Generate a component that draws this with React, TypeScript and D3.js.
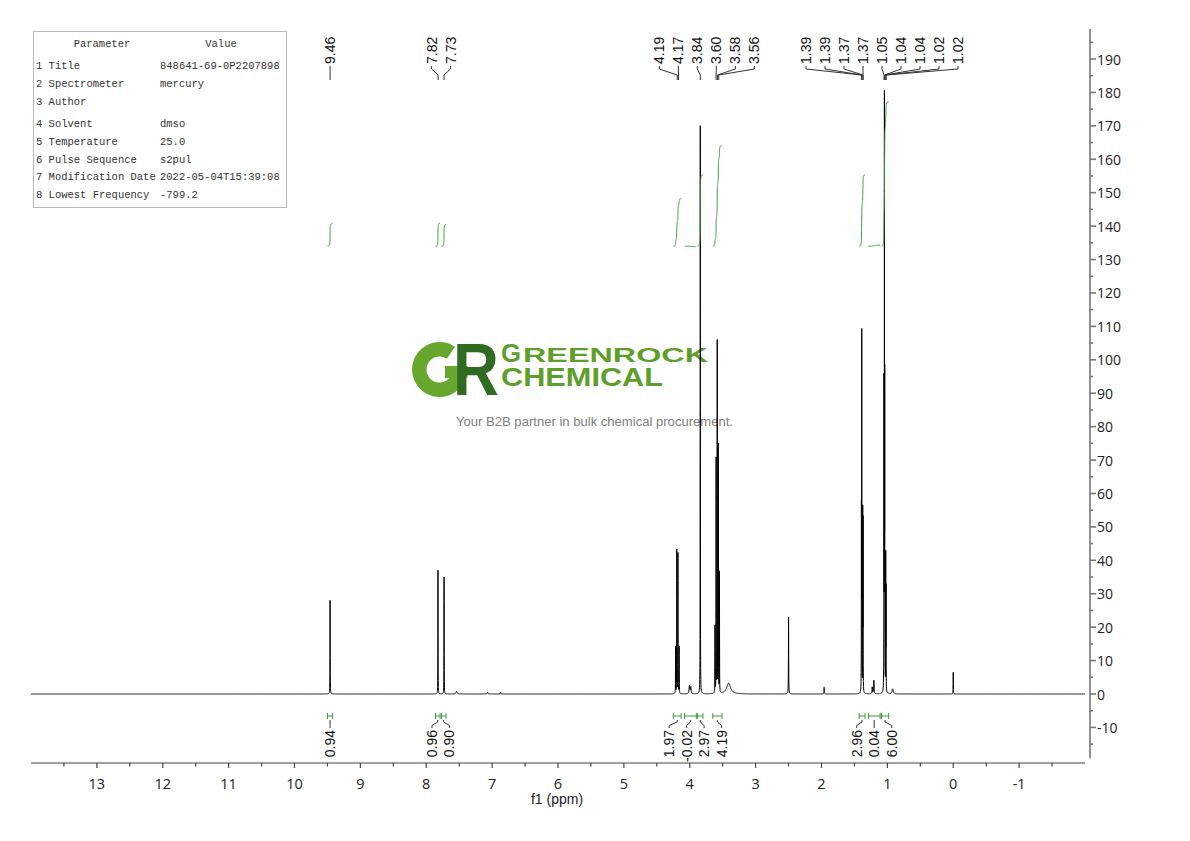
import React from 'react'
import * as d3 from 'd3'

// acquisition parameters (table, top left)
const paramNames = ['Title', 'Spectrometer', 'Author', 'Solvent', 'Temperature', 'Pulse Sequence', 'Modification Date', 'Lowest Frequency']
const paramValues = ['848641-69-0P2207898', 'mercury', '', 'dmso', '25.0', 's2pul', '2022-05-04T15:39:08', '-799.2']

// resolved lines of the 1H spectrum
const peakPpm = [9.46, 7.822, 7.73, 7.54, 7.07, 6.87, 4.215, 4.197, 4.179, 4.161, 4.005, 3.985, 3.84, 3.617, 3.6, 3.583, 3.566, 3.549, 3.41, 2.5, 1.96, 1.394, 1.389, 1.374, 1.369, 1.23, 1.205, 1.052, 1.045, 1.04, 1.025, 1.02, 0.92, 0.0]
const peakHeight = [28, 37, 35, 0.8, 0.6, 0.5, 14, 43, 42, 14, 2.5, 2, 170, 20, 70, 105, 74, 36, 3.2, 23, 2, 52, 106, 53, 50, 2, 4, 90, 173, 88, 40, 30, 1.5, 6.5]
const peakWidth = [0.0016, 0.0014, 0.0014, 0.01, 0.005, 0.005, 0.0014, 0.0014, 0.0014, 0.0014, 0.006, 0.006, 0.0013, 0.0013, 0.0013, 0.0013, 0.0013, 0.0013, 0.035, 0.002, 0.003, 0.0012, 0.0012, 0.0012, 0.0012, 0.004, 0.004, 0.0012, 0.0012, 0.0012, 0.0012, 0.0012, 0.01, 0.0018]

// peak picking labels
const shiftLabels = ['9.46', '7.82', '7.73', '4.19', '4.17', '3.84', '3.60', '3.58', '3.56', '1.39', '1.39', '1.37', '1.37', '1.05', '1.04', '1.04', '1.02', '1.02']

// integration regions
const integralFrom = [9.5, 7.86, 7.77, 4.25, 4.08, 3.88, 3.65, 1.43, 1.29, 1.09]
const integralTo = [9.42, 7.79, 7.7, 4.13, 3.9, 3.8, 3.51, 1.34, 1.11, 0.98]
const integralValue = [0.94, 0.96, 0.9, 1.97, -0.02, 2.97, 4.19, 2.96, 0.04, 6.0]

const xMajor = d3.range(13, -1.5, -1)
const xMinor = d3.range(13.5, -2, -1)
const yMajor = d3.range(-10, 200, 10)
const yMinor = d3.range(-15, 200, 10)

const W = 1190
const H = 841
const xScale = d3.scaleLinear().domain([14, -2]).range([31, 1085])
const yScale = d3.scaleLinear().domain([0, 190]).range([694, 59])

const intensity = (ppm: number) => {
    let s = 0
    for (let i = 0; i < peakPpm.length; i++) {
        const u = (ppm - peakPpm[i]) / peakWidth[i]
        s += peakHeight[i] / (1 + u * u)
    }
    return s
}

// spread overlapping labels to an even pitch; each cluster is placed so that the
// median displacement is zero (labels move as little as possible)
function spread(ideal: number[], gap: number) {
    type C = { start: number; n: number; c: number }
    const place = (start: number, n: number) => {
        const d = d3.range(n).map((k) => ideal[start + k] - k * gap)
        return d3.median(d) as number
    }
    let cl: C[] = ideal.map((x, i) => ({ start: i, n: 1, c: x }))
    let again = true
    while (again) {
        again = false
        for (let i = 0; i < cl.length - 1; i++) {
            const a = cl[i]
            const b = cl[i + 1]
            const aEnd = a.c + (a.n - 1) * gap
            if (b.c - aEnd < gap - 1e-6) {
                const n = a.n + b.n
                cl.splice(i, 2, { start: a.start, n, c: place(a.start, n) })
                again = true
                break
            }
        }
    }
    const out: number[] = []
    cl.forEach((c) => {
        for (let k = 0; k < c.n; k++) out.push(c.c + k * gap)
    })
    return out
}

export default function App() {
    // sample the spectrum, adding points at every line centre
    const pts: number[] = d3.range(14, -2.0001, -0.002)
    peakPpm.forEach((p, i) => {
        ;[-4, -2, -1, -0.5, 0, 0.5, 1, 2, 4].forEach((k) => pts.push(p + k * peakWidth[i]))
    })
    pts.sort((a, b) => b - a)
    const spec: [number, number][] = pts.map((p) => [p, intensity(p)])
    const line = d3
        .line<[number, number]>()
        .x((d) => xScale(d[0]))
        .y((d) => yScale(d[1]))

    // integral curves
    const integralBase = 134
    const integralUnit = 7.2
    const integrals = integralFrom.map((from, i) => {
        const xs = d3.range(from, integralTo[i] - 0.00001, -0.0004)
        const vals = xs.map(intensity)
        const total = d3.sum(vals)
        let c = 0
        const curve: [number, number][] = xs.map((p, j) => {
            c += vals[j]
            return [p, integralBase + (integralValue[i] * integralUnit * c) / total]
        })
        return curve
    })

    const shiftPpm = shiftLabels.map(Number)
    const topX = spread(shiftPpm.map((p) => xScale(p)), 19)
    const midX = integralFrom.map((f, i) => xScale((f + integralTo[i]) / 2))
    const botX = spread(midX, 17.5)

    const labelFont = 'Liberation Sans, Arial, sans-serif'
    const axisFont = 'Open Sans, sans-serif'
    const green = '#3a9c3a'
    const rowY = [69, 87, 105, 127, 145, 163, 180, 198]
    const charW = 6.3

    const arc = d3.arc()({ innerRadius: 13, outerRadius: 27.5, startAngle: Math.PI / 2 + 0.06, endAngle: Math.PI * 2 + 0.6 }) as string

    return (
        <svg width={W} height={H} style={{ position: 'absolute', left: 0, top: 0, background: '#fff' }}>
            {/* watermark */}
            <g>
                <path d={arc} transform="translate(439.5,369.5)" fill="#67a72e" />
                <rect x={445} y={366} width={22.5} height={12} fill="#67a72e" />
                <text x={0} y={0} fontFamily={labelFont} fontWeight={700} fontSize={74} fill="#2f6b22" transform="translate(453,395) scale(0.86,1)">
                    R
                </text>
                <text x={501} y={362} fontFamily={labelFont} fontWeight={700} fill="#5e9f2b" fontSize={21}>
                    <tspan fontSize={26} textLength={20} lengthAdjust="spacingAndGlyphs">G</tspan>
                    <tspan x={523} textLength={185} lengthAdjust="spacingAndGlyphs">REENROCK</tspan>
                </text>
                <text x={501} y={385.5} fontFamily={labelFont} fontWeight={700} fontSize={25} fill="#5e9f2b" textLength={162} lengthAdjust="spacingAndGlyphs">
                    CHEMICAL
                </text>
                <text x={456} y={425.5} fontFamily={labelFont} fontSize={12.5} fill="#808080" textLength={277} lengthAdjust="spacingAndGlyphs">
                    Your B2B partner in bulk chemical procurement.
                </text>
            </g>

            {/* parameter table */}
            <g fontFamily="Liberation Mono, monospace" fontSize={11.5} fill="#333">
                <rect x={33.5} y={31.5} width={253} height={176} fill="none" stroke="#bbb" />
                <text x={102} y={47} textAnchor="middle" textLength={9 * charW} lengthAdjust="spacingAndGlyphs">Parameter</text>
                <text x={221} y={47} textAnchor="middle" textLength={5 * charW} lengthAdjust="spacingAndGlyphs">Value</text>
                {paramNames.map((n, i) => {
                    const a = `${i + 1} ${n}`
                    const b = paramValues[i]
                    return (
                        <g key={n}>
                            <text x={36} y={rowY[i]} textLength={a.length * charW} lengthAdjust="spacingAndGlyphs">{a}</text>
                            {b && (
                                <text x={160} y={rowY[i]} textLength={b.length * charW} lengthAdjust="spacingAndGlyphs">{b}</text>
                            )}
                        </g>
                    )
                })}
            </g>

            {/* spectrum */}
            <path d={line(spec) as string} fill="none" stroke="#000" strokeWidth={1} />

            {/* integral curves */}
            {integrals.map((c, i) => (
                <path key={i} d={line(c) as string} fill="none" stroke={green} strokeWidth={1} />
            ))}

            {/* integral markers + labels */}
            {integralFrom.map((f, i) => {
                const x1 = xScale(f)
                const x2 = xScale(integralTo[i])
                const mx = midX[i]
                const lx = botX[i]
                return (
                    <g key={i}>
                        <path d={`M${x1},716H${x2}M${x1},713V719M${x2},713V719`} stroke={green} fill="none" strokeWidth={1} />
                        <path d={`M${mx},720V722L${lx},725.5V728`} stroke="#333" fill="none" strokeWidth={1} />
                        <text transform={`translate(${lx},730) rotate(-90)`} textAnchor="end" dominantBaseline="central" fontFamily={labelFont} fontSize={14} fill="#111">
                            {integralValue[i].toFixed(2)}
                        </text>
                    </g>
                )
            })}

            {/* peak labels */}
            {shiftLabels.map((s, i) => {
                const lx = topX[i]
                const px = xScale(shiftPpm[i])
                return (
                    <g key={i}>
                        <path d={`M${lx},66V69L${px},75V80`} stroke="#333" fill="none" strokeWidth={1} />
                        <text transform={`translate(${lx},64) rotate(-90)`} textAnchor="start" dominantBaseline="central" fontFamily={labelFont} fontSize={14} fill="#111">
                            {s}
                        </text>
                    </g>
                )
            })}

            {/* x axis */}
            <g stroke="#444" strokeWidth={1.2}>
                <line x1={31} x2={1085} y1={763} y2={763} />
                {xMajor.map((v) => (
                    <line key={v} x1={xScale(v)} x2={xScale(v)} y1={763} y2={768} />
                ))}
                {xMinor.map((v) => (
                    <line key={v} x1={xScale(v)} x2={xScale(v)} y1={763} y2={766.5} />
                ))}
            </g>
            {xMajor.map((v) => (
                <text key={v} x={xScale(v)} y={789} textAnchor="middle" fontFamily={axisFont} fontSize={14.5} fill="#222">
                    {String(v)}
                </text>
            ))}
            <text x={557} y={804} textAnchor="middle" fontFamily={labelFont} fontSize={14} fill="#222">
                f1 (ppm)
            </text>

            {/* y axis */}
            <g stroke="#777" strokeWidth={1.6}>
                <line x1={1090} x2={1090} y1={yScale(199)} y2={yScale(-19.3)} />
                {yMajor.map((v) => (
                    <line key={v} x1={1090} x2={1096} y1={yScale(v)} y2={yScale(v)} />
                ))}
                {yMinor.map((v) => (
                    <line key={v} x1={1090} x2={1093} y1={yScale(v)} y2={yScale(v)} />
                ))}
            </g>
            {yMajor.map((v) => (
                <text key={v} x={1097} y={yScale(v)} dominantBaseline="central" fontFamily={axisFont} fontSize={14} fill="#222">
                    {String(v)}
                </text>
            ))}
        </svg>
    )
}
